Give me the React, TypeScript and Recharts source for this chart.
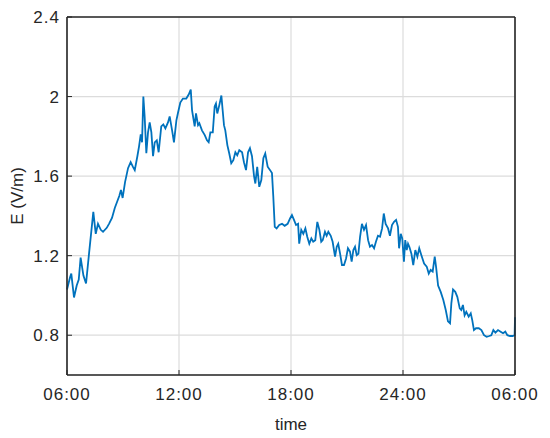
import { LineChart, Line, XAxis, YAxis, CartesianGrid } from 'recharts';

// MATLAB-ish look
const COLORS = {
  line: '#0072bd',
  axis: '#262626',
  grid: '#dcdcdc',
  text: '#262626',
};
const FONT = '"Liberation Sans", Arial, Helvetica, sans-serif';

// hours since 06:00
const hours = [
  0, 0.16, 0.23, 0.375, 0.52, 0.63, 0.73, 0.88, 1.02, 1.18, 1.41, 1.54, 1.66, 1.81, 1.93,
  2.13, 2.25, 2.41, 2.56, 2.68, 2.8, 2.89, 2.98, 3.11, 3.27, 3.41, 3.54, 3.63, 3.77, 3.86,
  3.95, 4.02, 4.09, 4.16, 4.25, 4.34, 4.43, 4.52, 4.61, 4.7, 4.81, 4.91, 5.05, 5.16, 5.27,
  5.41, 5.5, 5.63, 5.73, 5.86, 5.95, 6.07, 6.21, 6.39, 6.52, 6.63, 6.7, 6.84, 6.91, 7.02,
  7.09, 7.23, 7.38, 7.5, 7.59, 7.68, 7.81, 7.91, 7.98, 8.05, 8.16, 8.27, 8.34, 8.41, 8.48,
  8.59, 8.69, 8.8, 8.91, 9.02, 9.12, 9.23, 9.38, 9.48, 9.59, 9.7, 9.8, 9.91, 10.02, 10.09,
  10.19, 10.3, 10.41, 10.52, 10.62, 10.75, 10.88, 10.98, 11.05, 11.13, 11.23, 11.37, 11.52, 11.66, 11.82,
  11.95, 12.05, 12.16, 12.27, 12.38, 12.44, 12.55, 12.66, 12.77, 12.87, 12.98, 13.09, 13.19, 13.3, 13.41,
  13.52, 13.62, 13.7, 13.82, 13.91, 14.0, 14.13, 14.23, 14.36, 14.45, 14.53, 14.63, 14.73, 14.84, 14.95,
  15.05, 15.16, 15.25, 15.34, 15.43, 15.52, 15.61, 15.7, 15.8, 15.91, 16.02, 16.13, 16.23, 16.34, 16.45,
  16.55, 16.66, 16.77, 16.88, 16.97, 17.07, 17.2, 17.3, 17.41, 17.52, 17.63, 17.73, 17.79, 17.88, 17.96,
  18.05, 18.12, 18.2, 18.27, 18.34, 18.45, 18.55, 18.66, 18.77, 18.87, 18.98, 19.13, 19.27, 19.38, 19.48,
  19.59, 19.7, 19.77, 19.88, 20.02, 20.16, 20.29, 20.41, 20.52, 20.59, 20.68, 20.8, 20.91, 21.04, 21.12,
  21.21, 21.3, 21.39, 21.52, 21.63, 21.71, 21.8, 21.91, 22.06, 22.2, 22.34, 22.48, 22.62, 22.73, 22.84,
  22.95, 23.09, 23.23, 23.36, 23.48, 23.59, 23.73, 23.88, 23.98, 24,
];

// electric field E (V/m)
const eField = [
  1.03, 1.09, 1.11, 0.99, 1.05, 1.08, 1.19, 1.1, 1.06, 1.21, 1.42, 1.31, 1.36, 1.33, 1.32,
  1.34, 1.36, 1.39, 1.44, 1.47, 1.5, 1.53, 1.49, 1.57, 1.64, 1.67, 1.645, 1.63, 1.7, 1.75,
  1.81, 1.77, 2.0, 1.9, 1.715, 1.82, 1.87, 1.82, 1.7, 1.77, 1.78, 1.72, 1.85, 1.86, 1.84,
  1.87, 1.9, 1.83, 1.77, 1.88, 1.92, 1.97, 1.99, 1.99, 2.01, 2.035, 1.93, 1.85, 1.915, 1.856,
  1.866, 1.83, 1.806, 1.78, 1.77, 1.82, 1.82, 1.95, 1.965, 1.915, 1.957, 2.005, 1.93, 1.856, 1.83,
  1.756, 1.715, 1.665, 1.68, 1.72, 1.705, 1.73, 1.72, 1.67, 1.63, 1.72, 1.74, 1.7, 1.6, 1.563,
  1.647, 1.546, 1.58, 1.69, 1.714, 1.647, 1.63, 1.615, 1.5, 1.345, 1.337, 1.354, 1.36, 1.35, 1.36,
  1.387, 1.404, 1.38, 1.354, 1.36, 1.26, 1.33, 1.31, 1.337, 1.295, 1.26, 1.287, 1.27, 1.278, 1.37,
  1.33, 1.27, 1.278, 1.32, 1.3, 1.32, 1.3, 1.27, 1.195, 1.245, 1.26, 1.21, 1.153, 1.153, 1.186,
  1.237, 1.22, 1.17, 1.228, 1.245, 1.203, 1.21, 1.295, 1.36, 1.33, 1.354, 1.278, 1.245, 1.253, 1.237,
  1.27, 1.3, 1.295, 1.337, 1.412, 1.36, 1.337, 1.3, 1.354, 1.37, 1.38, 1.345, 1.237, 1.31, 1.287,
  1.17, 1.278, 1.228, 1.26, 1.245, 1.21, 1.153, 1.228, 1.195, 1.237, 1.203, 1.16, 1.145, 1.11, 1.128,
  1.12, 1.195, 1.145, 1.05, 1.018, 0.977, 0.927, 0.87, 0.86, 0.96, 1.03, 1.018, 0.993, 0.935, 0.927,
  0.952, 0.9, 0.918, 0.893, 0.91, 0.876, 0.826, 0.835, 0.835, 0.826, 0.8, 0.792, 0.796, 0.8, 0.826,
  0.813, 0.826, 0.818, 0.81, 0.818, 0.8, 0.796, 0.796, 0.8, 0.89,
];

const xTicks = [0, 6, 12, 18, 24];
const xTickLabels = ['06:00', '12:00', '18:00', '24:00', '06:00'];
const yTicks = [0.8, 1.2, 1.6, 2.0, 2.4];
const yTickLabels = ['0.8', '1.2', '1.6', '2', '2.4'];

const data = hours.map((h, i) => ({ h, e: eField[i] }));

const tickStyle = { fill: COLORS.text, fontSize: 17, fontFamily: FONT, letterSpacing: 1 };
const axisLine = { stroke: COLORS.axis, strokeWidth: 1.6 };
const tickLine = { stroke: COLORS.axis, strokeWidth: 1 };

export default function App() {
  return (
    <div style={{ position: 'absolute', left: 0, top: 0, background: 'white' }}>
      <LineChart width={550} height={438} data={data} margin={{ top: 16, right: 34, bottom: 0, left: 0 }}>
        <CartesianGrid stroke={COLORS.grid} strokeWidth={1.2} />
        <XAxis
          dataKey="h" type="number" domain={[0, 24]} ticks={xTicks}
          tickFormatter={(v) => xTickLabels[xTicks.indexOf(v)]}
          height={63} tickSize={-5} tickMargin={18}
          axisLine={axisLine} tickLine={tickLine} tick={tickStyle}
          label={{ value: 'time', position: 'insideBottom', offset: 8, fill: COLORS.text, fontSize: 17, fontFamily: FONT }}
        />
        <XAxis
          xAxisId="top" orientation="top" dataKey="h" type="number" domain={[0, 24]} ticks={xTicks}
          height={1} tickSize={-5} axisLine={axisLine} tickLine={tickLine} tick={false}
        />
        <YAxis
          type="number" domain={[0.6, 2.4]} ticks={yTicks}
          tickFormatter={(v) => yTickLabels[yTicks.indexOf(v)]}
          width={67} tickSize={-5} tickMargin={12}
          axisLine={axisLine} tickLine={tickLine} tick={tickStyle}
          label={{ value: 'E (V/m)', angle: -90, position: 'insideLeft', offset: 17, fill: COLORS.text, fontSize: 17, fontFamily: FONT, style: { textAnchor: 'middle' } }}
        />
        <YAxis
          yAxisId="right" orientation="right" type="number" domain={[0.6, 2.4]} ticks={yTicks}
          width={1} tickSize={-5} axisLine={axisLine} tickLine={tickLine} tick={false}
        />
        <Line
          type="linear" dataKey="e" stroke={COLORS.line} strokeWidth={1.8}
          dot={false} activeDot={false} isAnimationActive={false}
        />
      </LineChart>
    </div>
  );
}
